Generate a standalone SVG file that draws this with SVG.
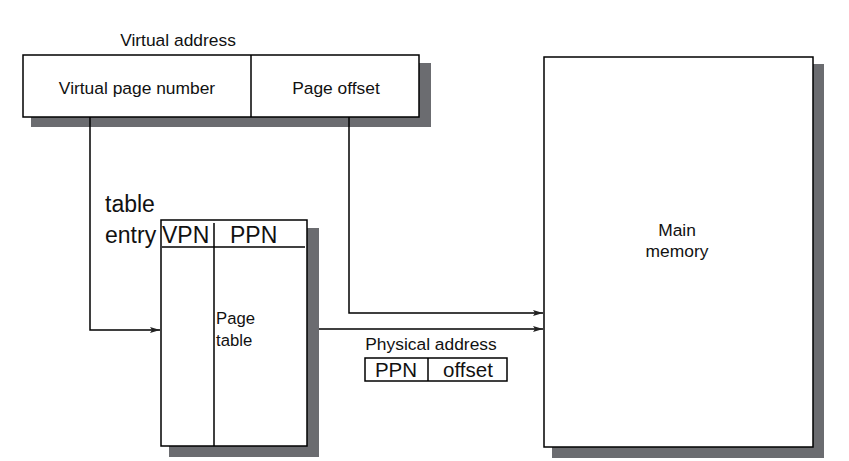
<svg xmlns="http://www.w3.org/2000/svg" width="849" height="461" viewBox="0 0 849 461">
<style>
.shadow{fill:#6b6c70}
.box{fill:#fff;stroke:#000;stroke-width:1.5}
.ln{fill:none;stroke:#000;stroke-width:1.5}
.t{font-family:"Liberation Sans",Arial,sans-serif;fill:#111}
.s17{font-size:17.4px}
.s16{font-size:16.7px}
.s23{font-size:23px}
.s20{font-size:20.5px}
</style>
<defs>
<marker id="ah" viewBox="0 0 10 6" refX="10" refY="3" markerWidth="10" markerHeight="6" markerUnits="userSpaceOnUse" orient="auto">
<path d="M0,0 L10,3 L0,6 L2,3 Z" fill="#222"/>
</marker>
</defs>
<rect width="849" height="461" fill="#fff"/>
<g id="virtual-address">
<rect class="shadow" x="31" y="63" width="400" height="64"/>
<rect class="box" x="23" y="55" width="396" height="62"/>
<line class="ln" x1="251" y1="55" x2="251" y2="117"/>
<text class="t s17" x="178" y="46" text-anchor="middle">Virtual address</text>
<text class="t s17" x="137" y="94" text-anchor="middle">Virtual page number</text>
<text class="t s17" x="336" y="94" text-anchor="middle">Page offset</text>
</g>
<g id="page-table">
<rect class="shadow" x="169" y="228" width="150" height="229"/>
<rect class="box" x="161" y="220" width="146" height="226"/>
<line class="ln" x1="162" y1="247" x2="305" y2="247"/>
<line class="ln" x1="214" y1="223" x2="214" y2="446"/>
<text class="t s23" x="162" y="243">VPN</text>
<text class="t s23" x="230" y="243">PPN</text>
<text class="t s23" x="105" y="212">table</text>
<text class="t s23" x="105" y="243">entry</text>
<text class="t s16" x="216" y="324">Page</text>
<text class="t s16" x="216" y="346">table</text>
</g>
<g id="main-memory">
<rect class="shadow" x="552" y="64" width="272" height="394"/>
<rect class="box" x="544" y="57" width="269" height="390"/>
<text class="t s17" x="677" y="236" text-anchor="middle">Main</text>
<text class="t s17" x="677" y="257" text-anchor="middle">memory</text>
</g>
<g id="physical-address">
<text class="t s17" x="431" y="350" text-anchor="middle">Physical address</text>
<rect class="box" x="365" y="358" width="142" height="23"/>
<line class="ln" x1="428" y1="358" x2="428" y2="381"/>
<text class="t s20" x="396" y="377" text-anchor="middle">PPN</text>
<text class="t s20" x="468" y="377" text-anchor="middle">offset</text>
</g>
<g id="connectors">
<polyline class="ln" points="90,117 90,330 160,330" marker-end="url(#ah)"/>
<polyline class="ln" points="349,117 349,313 543,313" marker-end="url(#ah)"/>
<line class="ln" x1="319" y1="329" x2="543" y2="329" marker-end="url(#ah)"/>
</g>
</svg>
